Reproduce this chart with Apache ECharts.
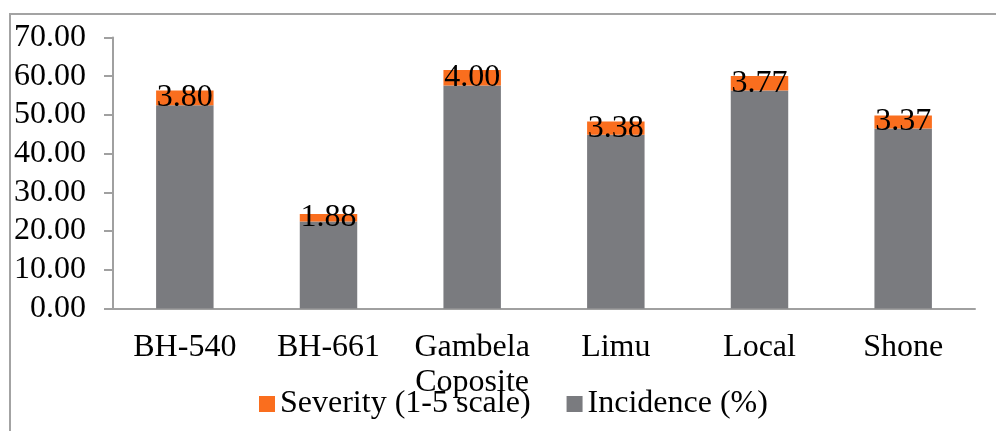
<!DOCTYPE html>
<html>
<head>
<meta charset="utf-8">
<script src="https://cdn.jsdelivr.net/npm/echarts@6/dist/echarts.min.js"></script>
<style>
html,body{margin:0;padding:0;background:#fff;}
#chart{width:996px;height:431px;}
</style>
</head>
<body>
<div id="chart"></div>
<script>
var categories = ['BH-540', 'BH-661', 'Gambela\nCoposite', 'Limu', 'Local', 'Shone'];
var incidence = [52.5, 22.5, 57.6, 44.9, 56.3, 46.5];
var severity = [3.80, 1.88, 4.00, 3.38, 3.77, 3.37];
var yTicks = { min: 0, max: 70, interval: 10 };

var FONT = '"Liberation Serif", "Times New Roman", serif';
var chart = echarts.init(document.getElementById('chart'));
chart.setOption({
  animation: false,
  textStyle: { fontFamily: FONT },
  graphic: [{
    type: 'rect',
    shape: { x: 10, y: 14, width: 1100, height: 600 },
    style: { fill: 'none', stroke: '#a3a3a3', lineWidth: 2 },
    silent: true
  }],
  grid: { left: 113, right: 21, top: 37.5, bottom: 122.5, containLabel: false },
  legend: {
    left: 254, top: 383,
    itemWidth: 16, itemHeight: 16, itemGap: 36,
    icon: 'rect',
    data: ['Severity (1-5 scale)', 'Incidence (%)'],
    textStyle: { fontFamily: FONT, fontSize: 32, color: '#000' }
  },
  xAxis: {
    type: 'category',
    data: categories,
    axisLine: { lineStyle: { color: '#a0a0a0', width: 2 } },
    axisTick: { length: 9, lineStyle: { color: '#a0a0a0', width: 2 } },
    axisLabel: { fontFamily: FONT, fontSize: 32, color: '#000', margin: 22, lineHeight: 35, interval: 0 }
  },
  yAxis: {
    type: 'value',
    min: yTicks.min, max: yTicks.max, interval: yTicks.interval,
    splitLine: { show: false },
    axisLine: { show: true, lineStyle: { color: '#a0a0a0', width: 2 } },
    axisTick: { show: true, length: 9, lineStyle: { color: '#a0a0a0', width: 2 } },
    axisLabel: { fontFamily: FONT, fontSize: 32, color: '#000', margin: 27,
      formatter: function (v) { return v.toFixed(2); } }
  },
  series: [
    {
      name: 'Incidence (%)', type: 'bar', stack: 'a', barWidth: '40%',
      data: incidence,
      itemStyle: { color: '#7a7b7f' }
    },
    {
      name: 'Severity (1-5 scale)', type: 'bar', stack: 'a', barWidth: '40%',
      data: severity,
      itemStyle: { color: '#fa6e1e' },
      label: {
        show: true, position: 'inside', fontFamily: FONT, fontSize: 32, color: '#000',
        formatter: function (p) { return p.value.toFixed(2); }
      }
    }
  ]
});
</script>
</body>
</html>
